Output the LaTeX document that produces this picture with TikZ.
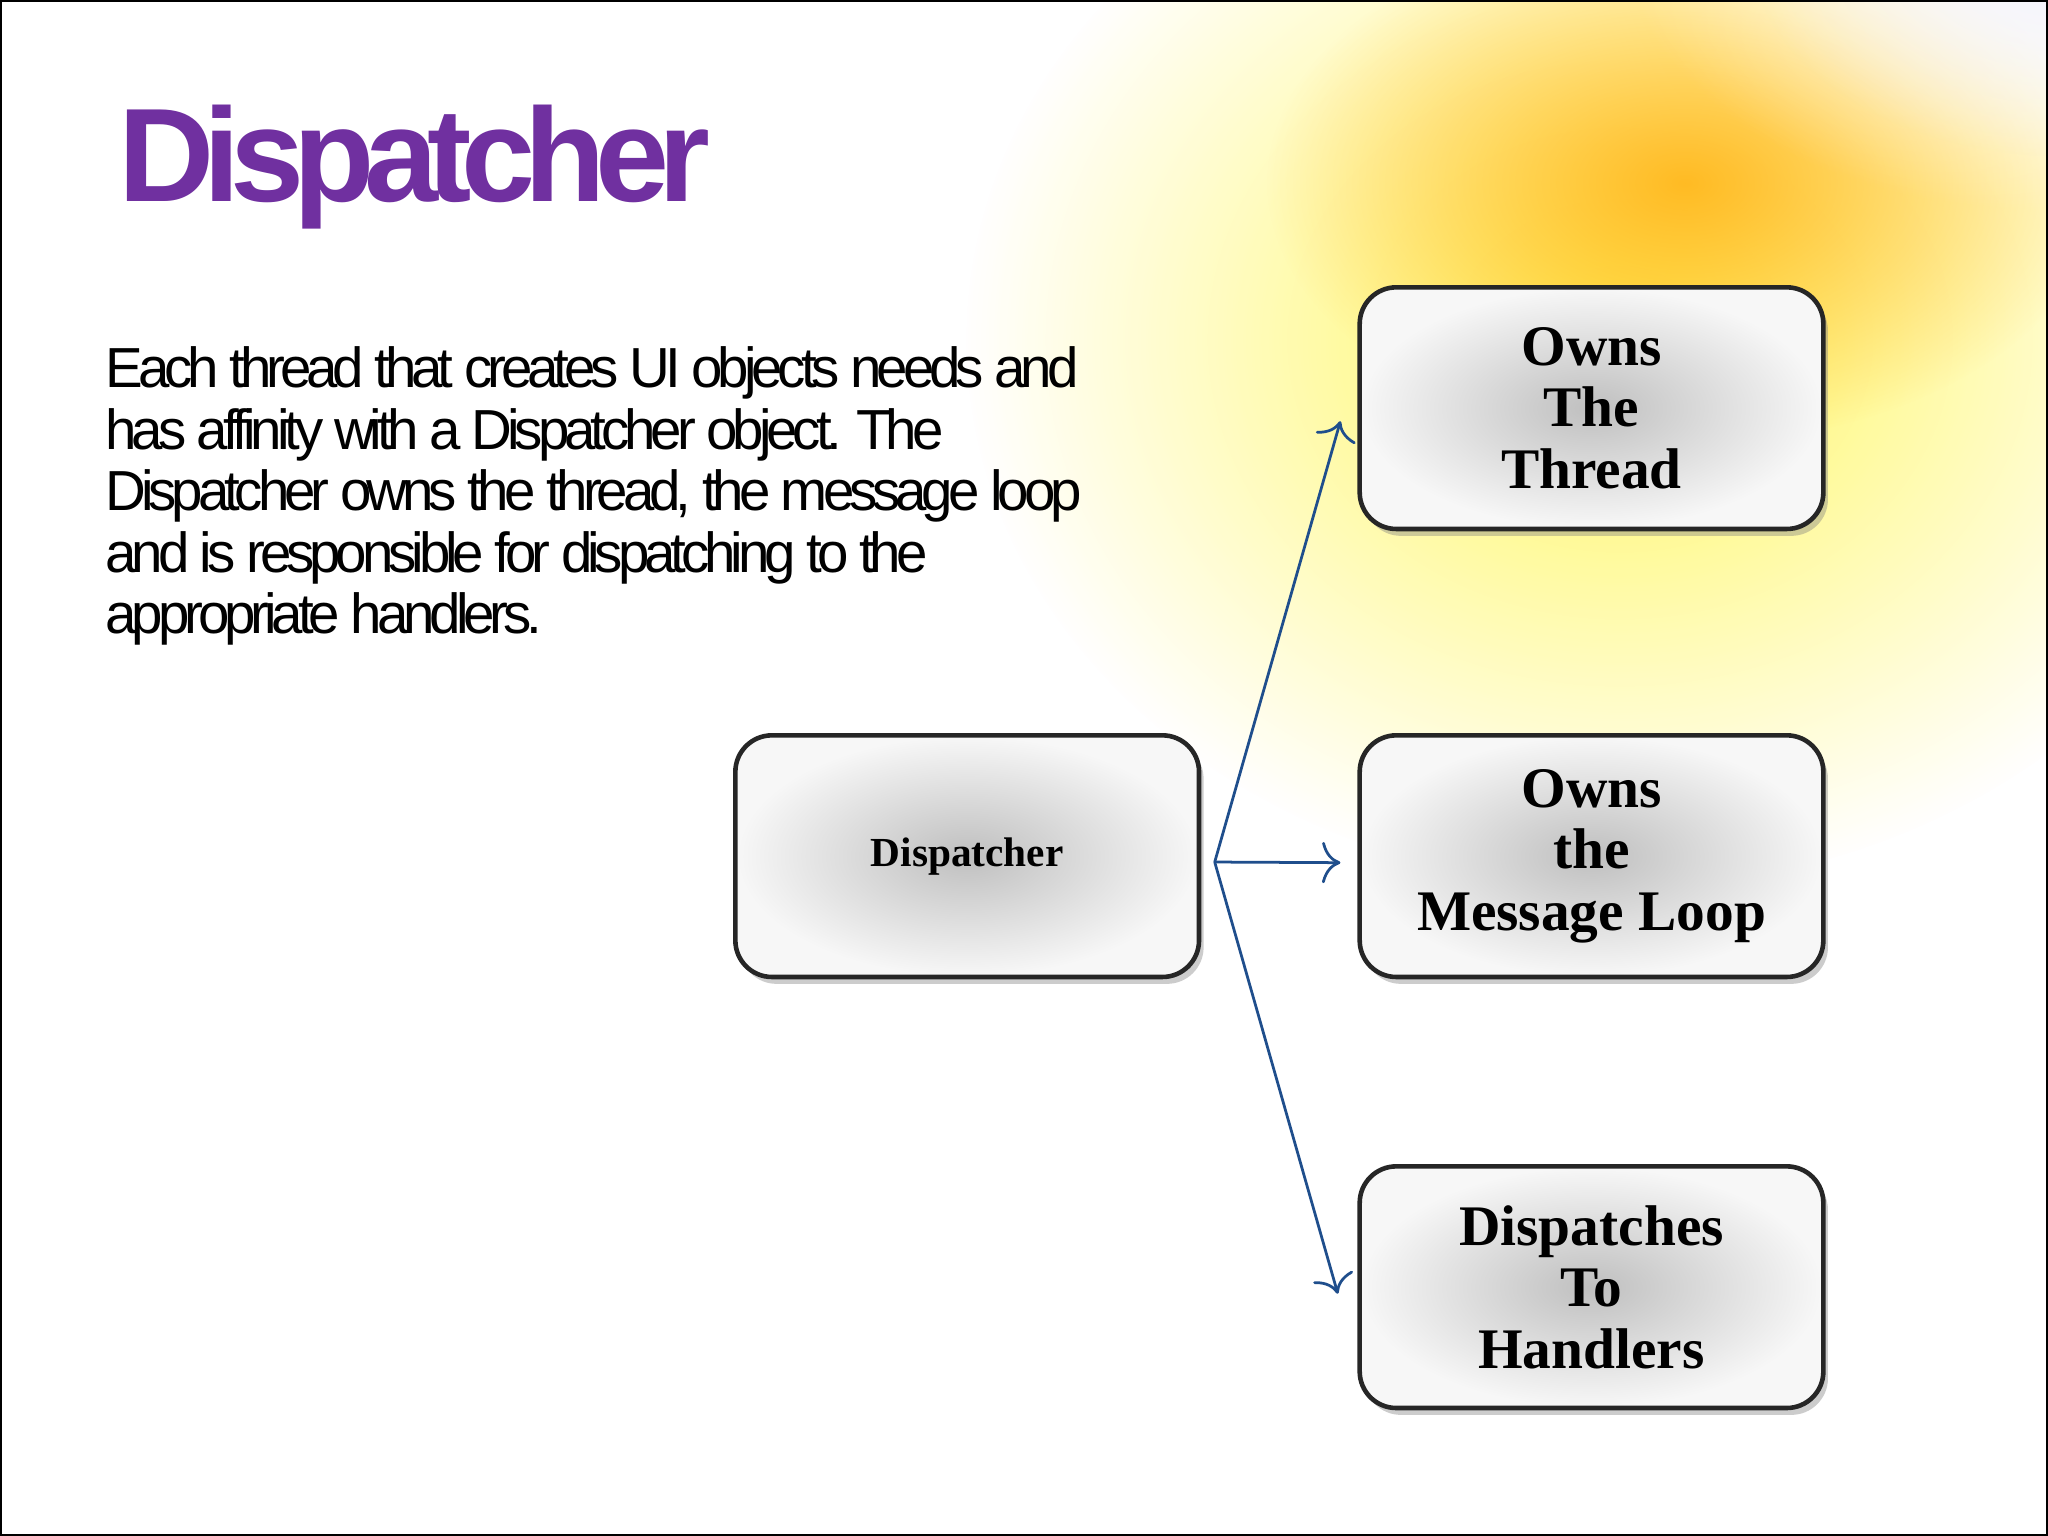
\documentclass[tikz,border=0pt]{standalone}
\usepackage{fontspec}
\setmainfont{Liberation Serif}
\newfontfamily\titlefont[LetterSpace=-8]{Liberation Sans}
\newfontfamily\bodyfont[LetterSpace=-9]{Liberation Sans}
\usetikzlibrary{shadows,arrows.meta,fadings}
\tikzfading[name=glowfade, inner color=transparent!0, outer color=transparent!100]
\definecolor{ttl}{HTML}{7030A0}
\definecolor{arr}{HTML}{1F4E8C}
\tikzset{
 box/.style={draw=black!85, line width=1pt, rounded corners=0.28cm, minimum width=3.55cm, minimum height=1.85cm,
   inner color=gray!50, outer color=gray!6, drop shadow={shadow xshift=1pt,shadow yshift=-1.5pt,opacity=0.4},
   font=\bfseries\fontsize{12.5}{13.4}\selectfont, align=center},
 conn/.style={draw=arr, line width=0.6pt, -{To[length=4pt,width=9pt]}}
}
\begin{document}
\begin{tikzpicture}[x=1cm,y=1cm]
\useasboundingbox (0,0) rectangle (15.68,-11.76);
\fill[white] (0,0) rectangle (15.68,-11.76);
\begin{scope}
\clip (0,0) rectangle (15.68,-11.76);
\fill[yellow!70!white, path fading=glowfade, opacity=0.9] (12.4,-2.6) ellipse (5.0 and 4.2);
\fill[orange!70!yellow, path fading=glowfade, opacity=0.75] (12.9,-1.4) ellipse (3.2 and 2.0);
\fill[white, path fading=glowfade] (15.6,0.6) ellipse (3.2 and 2.2);
\fill[blue!6, path fading=glowfade, opacity=0.8] (15.8,0.4) ellipse (2.4 and 1.6);
\end{scope}
\draw[black, line width=0.8pt] (0,0) rectangle (15.68,-11.76);
\node[anchor=west, text=ttl, font=\titlefont\bfseries\fontsize{29}{30}\selectfont] (title) at (0.78,-1.28) {Dispatcher};
\node[anchor=north west, align=left, font=\bodyfont\fontsize{12.3}{13.4}\selectfont, inner sep=0] (body) at (0.8,-2.65)
 {Each thread that creates UI objects needs and\\has affinity with a Dispatcher object. The\\Dispatcher owns the thread, the message loop\\and is responsible for dispatching to the\\appropriate handlers.};
\node[box, font=\bfseries\fontsize{9}{11}\selectfont] (d) at (7.405,-6.555) {Dispatcher};
\node[box] (a) at (12.185,-3.125) {Owns\\The\\Thread};
\node[box] (b) at (12.185,-6.555) {Owns\\the\\Message Loop};
\node[box] (c) at (12.185,-9.855) {Dispatches\\To\\Handlers};
\coordinate (s) at (9.3,-6.6);
\draw[conn] (s) -- ([xshift=-0.13cm,yshift=-0.1cm]a.west);
\draw[conn] (s) -- ([xshift=-0.13cm,yshift=-0.05cm]b.west);
\draw[conn] (s) -- ([xshift=-0.15cm,yshift=-0.05cm]c.west);
\end{tikzpicture}
\end{document}
